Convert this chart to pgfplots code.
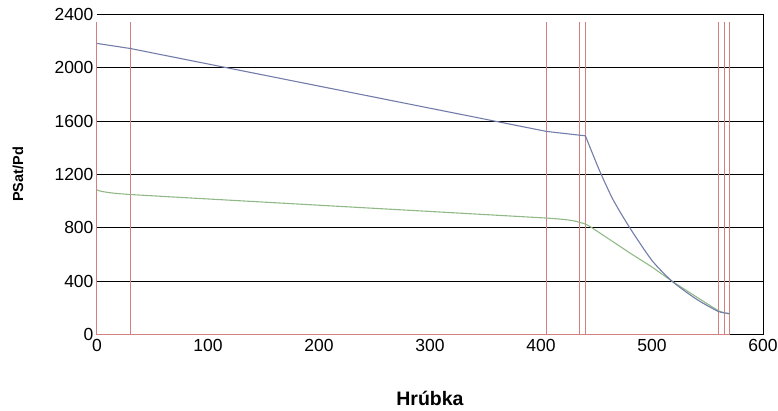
\documentclass[border=0pt]{standalone}
\usepackage{pgfplots}
\pgfplotsset{compat=1.18}
\usepackage{fontspec}
\setmainfont{Liberation Sans}
\definecolor{bnd}{RGB}{210,128,128}
\definecolor{blu}{RGB}{115,125,170}
\definecolor{grn}{RGB}{145,185,135}
\begin{document}
\begin{tikzpicture}
\path[use as bounding box] (-97pt,-75.5pt) rectangle (681pt,334.5pt);
\begin{axis}[
  scale only axis,
  width=666pt, height=320pt,
  xmin=0, xmax=600, ymin=0, ymax=2400,
  xtick={0,100,...,600}, ytick={0,400,...,2400},
  major tick length=0pt,
  axis line style={draw=none},
  ymajorgrids,
  grid style={black, line width=1pt},
  /pgf/number format/assume math mode=true,
  /pgf/number format/1000 sep={},
  tick label style={font=\fontsize{17.5pt}{19pt}\selectfont},
  xticklabel style={yshift=-1pt},
  yticklabel style={xshift=0pt},
  xlabel={\textbf{Hrúbka}},
  ylabel={\textbf{PSat/Pd}},
  xlabel style={font=\fontsize{19.5pt}{21pt}\selectfont, at={(axis description cs:0.5,-0.1994)}, anchor=center},
  ylabel style={font=\fontsize{14.5pt}{17pt}\selectfont, at={(axis description cs:-0.1186,0.5)}, anchor=center},
  clip=false,
]
\draw[black, line width=1pt] (rel axis cs:0,1) -- (rel axis cs:1,1) -- (rel axis cs:1,0) -- (axis cs:570,0);
\addplot[bnd, line width=1pt] coordinates {(0,0) (570,0)};
\addplot[bnd, line width=1pt] coordinates {(0,0) (0,2340)};
\addplot[bnd, line width=1pt] coordinates {(30,0) (30,2340)};
\addplot[bnd, line width=1pt] coordinates {(405,0) (405,2340)};
\addplot[bnd, line width=1pt] coordinates {(435,0) (435,2340)};
\addplot[bnd, line width=1pt] coordinates {(440,0) (440,2340)};
\addplot[bnd, line width=1pt] coordinates {(560,0) (560,2340)};
\addplot[bnd, line width=1pt] coordinates {(565,0) (565,2340)};
\addplot[bnd, line width=1pt] coordinates {(570,0) (570,2340)};
\addplot[grn, line width=1.1pt, smooth, tension=0.25] coordinates {
(0,1085) (30,1050) (405,873) (435,840) (440,828) (446,800) (480,612) (500,506) (518,400) (540,282) (560,178) (570,152)};
\addplot[blu, line width=1.1pt] coordinates {
(0,2183) (30,2145) (405,1523) (440,1490)};
\addplot[blu, line width=1.1pt, smooth, tension=0.4] coordinates {
(440,1490) (447,1345) (454,1205) (465,1010) (480,800) (500,555) (518,400) (540,265) (560,172) (570,158)};
\end{axis}
\end{tikzpicture}
\end{document}
